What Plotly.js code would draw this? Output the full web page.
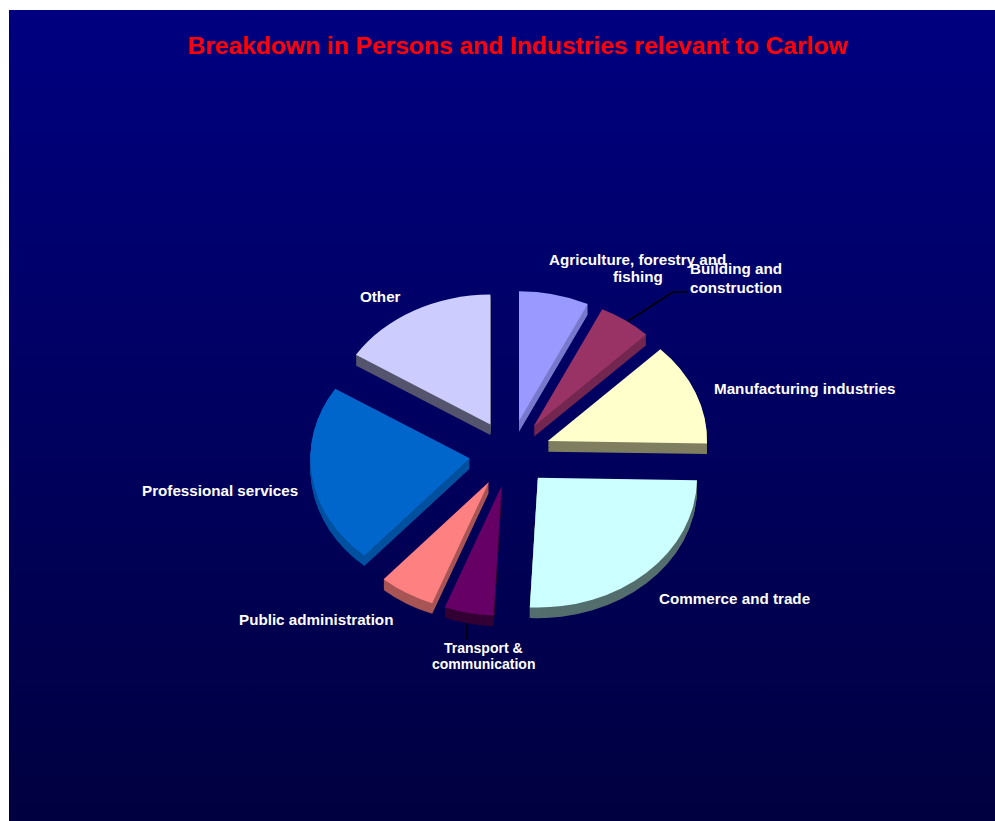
<!DOCTYPE html>
<html>
<head>
<meta charset="utf-8">
<script src="https://cdn.plot.ly/plotly-3.0.1.min.js"></script>
<style>
html,body{margin:0;padding:0;background:#fff;width:995px;height:821px;overflow:hidden}
#bg{position:absolute;left:9px;top:10px;width:986px;height:811px;background:linear-gradient(180deg,#000080 0%,#000040 100%)}
#chart{position:absolute;left:0;top:0;width:995px;height:821px}
</style>
</head>
<body>
<div id="bg"></div>
<div id="chart"></div>
<script>
var categories = ["Agriculture, forestry and fishing","Building and construction","Manufacturing industries","Commerce and trade","Transport & communication","Public administration","Professional services","Other"];
var shares = [7.1,5.4,12.8,25.5,5,5.7,22.5,16];
var faceColors = ["#9999FF","#993366","#FFFFCC","#CCFFFF","#660066","#FF8080","#0066CC","#CCCCFF"];
var rimColors = ["#7878CC","#732650","#7F7F60","#546E6E","#330033","#A85555","#0050A0","#55556E"];
var labelRows = ["Agriculture, forestry and","fishing","Building and","construction","Manufacturing industries","Commerce and trade","Transport &","communication","Public administration","Professional services","Other"];
var rowX = [637.5,637.5,736,736,804,734,483.5,483.5,315.5,219.5,380.5];
var rowY = [259,277,269,287,388,598,648,664,619,490,296];
var rowSize = [15.2,15.2,15.2,15.2,15.2,15.2,14,14,15.2,15.2,15.2];

var W=995,H=821,cx=510,cy=453.5,half=200,depth=13,squash=0.815;
function px(x){return x/W;}
function py(y){return 1-y/H;}
function pie(colors,dy){
  return {type:'pie',values:shares,labels:categories,sort:false,direction:'clockwise',rotation:0,
    pull:shares.map(function(){return 0.256;}),textinfo:'none',hoverinfo:'skip',showlegend:false,
    marker:{colors:colors,line:{width:0}},
    domain:{x:[px(cx-half),px(cx+half)],y:[py(cy+half+dy),py(cy-half+dy)]}};
}
var traces=[];
for(var k=depth;k>=1;k--){traces.push(pie(rimColors,k));}
traces.push(pie(faceColors,0));

var annotations=labelRows.map(function(t,i){
  return {text:t,x:px(rowX[i]),y:py(rowY[i]),xref:'paper',yref:'paper',xanchor:'center',yanchor:'middle',
    showarrow:false,align:'center',font:{family:'Liberation Sans',size:rowSize[i],color:'#FFFFFF',weight:'bold'}};
});
var shapes=[
 {type:'path',xref:'paper',yref:'paper',path:'M'+px(628)+','+py(321)+' L'+px(673)+','+py(292)+' L'+px(688)+','+py(292),line:{color:'#000000',width:1.5}},
 {type:'line',xref:'paper',yref:'paper',x0:px(467),x1:px(467),y0:py(623),y1:py(640),line:{color:'#000000',width:1.5}}
];
var layout={width:W,height:H,margin:{l:0,r:0,t:0,b:0},paper_bgcolor:'rgba(0,0,0,0)',plot_bgcolor:'rgba(0,0,0,0)',
  title:{text:'Breakdown in Persons and Industries relevant to Carlow',x:517.5/W,xanchor:'center',xref:'paper',y:1-45/H,yanchor:'middle',yref:'container',
    font:{family:'Liberation Sans',size:24.6,color:'#FF0000',weight:'bold'}},
  annotations:annotations,shapes:shapes};
Plotly.newPlot('chart',traces,layout,{displayModeBar:false,staticPlot:true}).then(function(){
  var g=document.querySelector('#chart .pielayer');
  if(g){g.setAttribute('transform','translate(0,'+cy+') scale(1,'+squash+') translate(0,'+(-cy)+')');}
});
</script>
</body>
</html>
